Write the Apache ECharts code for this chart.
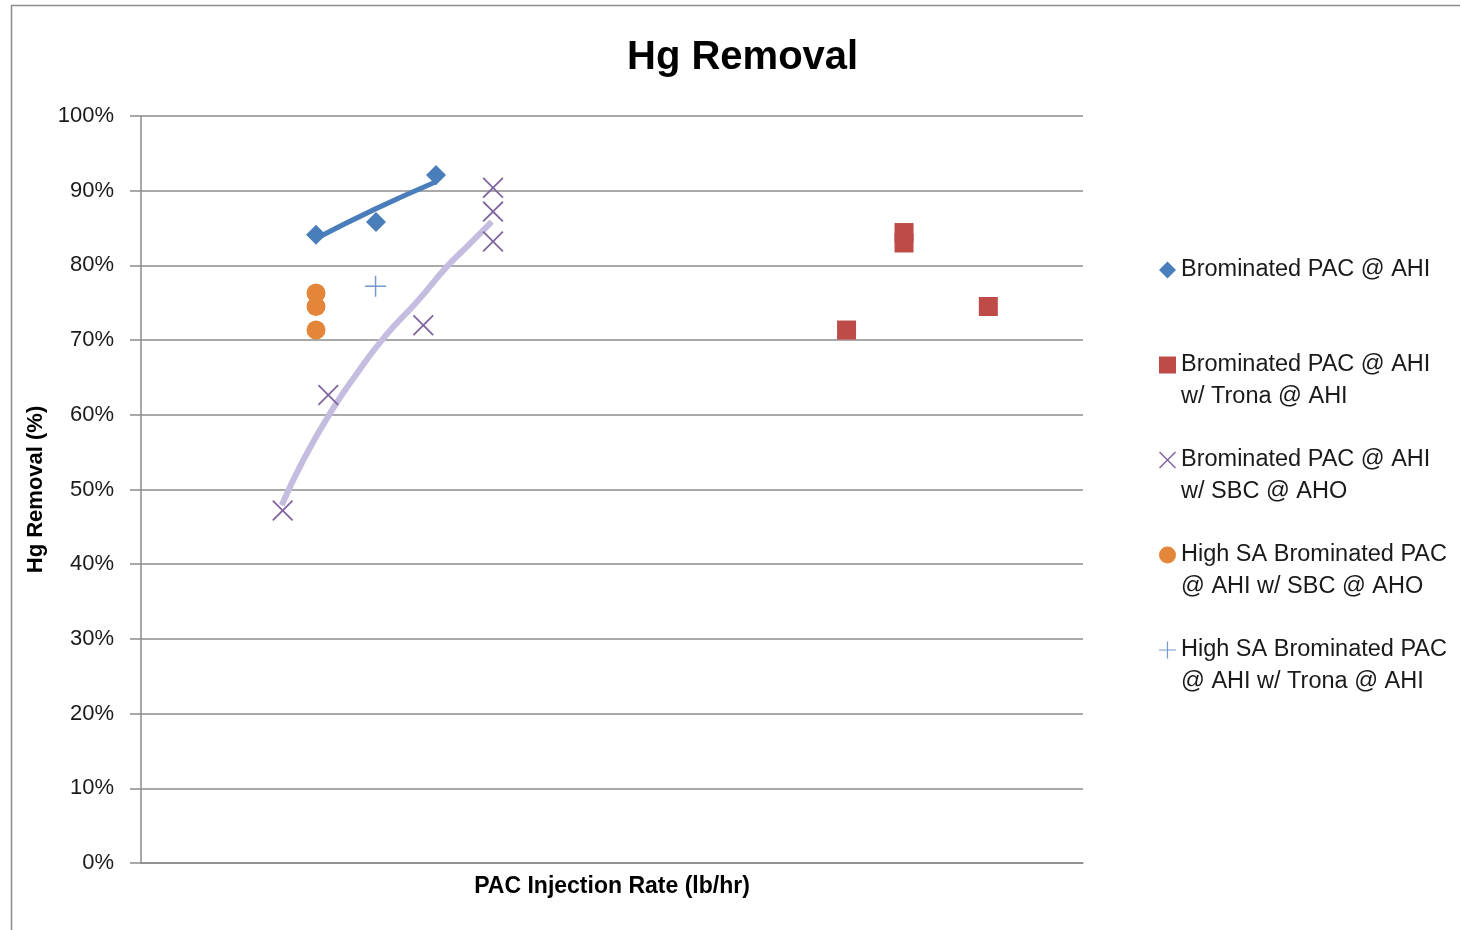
<!DOCTYPE html>
<html>
<head>
<meta charset="utf-8">
<script src="https://cdn.jsdelivr.net/npm/echarts@6/dist/echarts.min.js"></script>
<style>html,body{margin:0;padding:0;background:#fff;}#c{width:1460px;height:930px;}</style>
</head>
<body>
<div id="c"></div>
<script>
// ---- data (x in relative injection-rate units, y in % removal) ----
const yTicks = [0, 10, 20, 30, 40, 50, 60, 70, 80, 90, 100];

const brAhiX = [18.58, 24.95, 31.32];
const brAhiY = [84.1, 85.8, 92.1];

const brTronaX = [74.9, 81.0, 81.0, 89.95];
const brTronaY = [71.35, 84.4, 83.0, 74.5];

const brSbcX = [15.04, 19.88, 29.97, 37.37, 37.37, 37.37];
const brSbcY = [47.2, 62.65, 72.0, 90.4, 87.2, 83.2];

const hsaSbcX = [18.58, 18.58, 18.58];
const hsaSbcY = [76.3, 74.5, 71.35];

const hsaTronaX = [24.9];
const hsaTronaY = [77.2];

// trendlines
const brAhiTrendX = [18.58, 24.95, 31.32];
const brAhiTrendY = [83.6, 87.6, 91.2];
const brSbcTrendX = [14.94, 17.23, 20.06, 22.90, 25.90, 29.27, 32.45, 34.93, 37.23];
const brSbcTrendY = [47.9, 53.95, 60.2, 65.5, 70.5, 75.1, 79.8, 82.9, 85.85];

const seriesNames = [
  'Brominated PAC @ AHI',
  'Brominated PAC @ AHI w/ Trona @ AHI',
  'Brominated PAC @ AHI w/ SBC @ AHO',
  'High SA Brominated PAC @ AHI w/ SBC @ AHO',
  'High SA Brominated PAC @ AHI w/ Trona @ AHI'
];
const legendLines = [
  ['Brominated PAC @ AHI', ' '],
  ['Brominated PAC @ AHI', 'w/ Trona @ AHI'],
  ['Brominated PAC @ AHI', 'w/ SBC @ AHO'],
  ['High SA Brominated PAC', '@ AHI w/ SBC @ AHO'],
  ['High SA Brominated PAC', '@ AHI w/ Trona @ AHI']
];

function pairs(xs, ys) { return xs.map((x, i) => [x, ys[i]]); }

const X_PATH = 'path://M0,1.2L1.2,0L10,8.8L18.8,0L20,1.2L11.2,10L20,18.8L18.8,20L10,11.2L1.2,20L0,18.8L8.8,10Z';
const PLUS_PATH = 'path://M9.3,0H10.7V9.3H20V10.7H10.7V20H9.3V10.7H0V9.3H9.3Z';

const FONT = '"Liberation Sans", Arial, sans-serif';

const chart = echarts.init(document.getElementById('c'));
chart.setOption({
  backgroundColor: '#ffffff',
  animation: false,
  textStyle: { fontFamily: FONT },
  graphic: [{
    type: 'rect', left: 9, top: 3, z: -10,
    shape: { x: 0, y: 0, width: 1600, height: 1000 },
    style: { fill: 'none', stroke: '#8c8c8c', lineWidth: 1.5 }
  }],
  title: {
    text: 'Hg Removal', left: 622, top: 33,
    textStyle: { fontFamily: FONT, fontSize: 40, fontWeight: 'bold', color: '#000' }
  },
  grid: { left: 141, right: 377, top: 116, bottom: 67 },
  legend: {
    orient: 'vertical', left: 1159, top: 222, padding: 0,
    itemWidth: 17, itemHeight: 17, itemGap: -1,
    data: seriesNames,
    formatter: function (name) {
      const i = seriesNames.indexOf(name);
      return ' \n' + legendLines[i].join('\n');
    },
    textStyle: { fontFamily: FONT, fontSize: 23.5, lineHeight: 32, color: '#1a1a1a' }
  },
  xAxis: {
    type: 'value', min: 0, max: 100,
    name: 'PAC Injection Rate (lb/hr)', nameLocation: 'middle', nameGap: 12,
    nameTextStyle: { fontFamily: FONT, fontSize: 23, fontWeight: 'bold', color: '#000', verticalAlign: 'top' },
    axisLine: { show: true, lineStyle: { color: '#8c8c8c', width: 1.5 } },
    axisTick: { show: false }, axisLabel: { show: false }, splitLine: { show: false }
  },
  yAxis: {
    type: 'value', min: 0, max: 100, interval: 10,
    name: 'Hg Removal (%)', nameLocation: 'middle', nameGap: 92,
    nameTextStyle: { fontFamily: FONT, fontSize: 22, fontWeight: 'bold', color: '#000' },
    axisLine: { show: true, lineStyle: { color: '#8c8c8c', width: 1.5 } },
    axisTick: { show: true, length: 11, lineStyle: { color: '#8c8c8c', width: 1.5 } },
    axisLabel: {
      margin: 27, fontFamily: FONT, fontSize: 22, color: '#1a1a1a',
      formatter: function (v) { return yTicks.indexOf(v) >= 0 ? v + '%' : ''; }
    },
    splitLine: { show: true, lineStyle: { color: '#8c8c8c', width: 1.5 } }
  },
  series: [
    {
      name: seriesNames[0], type: 'scatter', symbol: 'diamond', symbolSize: 20,
      itemStyle: { color: '#4a7ebb', opacity: 1 }, data: pairs(brAhiX, brAhiY), z: 3
    },
    {
      name: seriesNames[1], type: 'scatter', symbol: 'rect', symbolSize: 19,
      itemStyle: { color: '#be4b48', opacity: 1 }, data: pairs(brTronaX, brTronaY), z: 3
    },
    {
      name: seriesNames[2], type: 'scatter', symbol: X_PATH, symbolSize: 21, symbolKeepAspect: true,
      itemStyle: { color: '#7f64a0', opacity: 1 }, data: pairs(brSbcX, brSbcY), z: 3
    },
    {
      name: seriesNames[3], type: 'scatter', symbol: 'circle', symbolSize: 19,
      itemStyle: { color: '#e3863a', opacity: 1 }, data: pairs(hsaSbcX, hsaSbcY), z: 3
    },
    {
      name: seriesNames[4], type: 'scatter', symbol: PLUS_PATH, symbolSize: 21, symbolKeepAspect: true,
      itemStyle: { color: '#7497cc', opacity: 1 }, data: pairs(hsaTronaX, hsaTronaY), z: 3
    },
    {
      name: 'trend1', type: 'line', smooth: true, showSymbol: false, symbol: 'none',
      lineStyle: { color: '#4a7ebb', width: 5 }, data: pairs(brAhiTrendX, brAhiTrendY), z: 4
    },
    {
      name: 'trend3', type: 'line', smooth: 0.5, showSymbol: false, symbol: 'none',
      lineStyle: { color: '#c5bddf', width: 6 }, data: pairs(brSbcTrendX, brSbcTrendY), z: 2
    }
  ]
});
</script>
</body>
</html>
